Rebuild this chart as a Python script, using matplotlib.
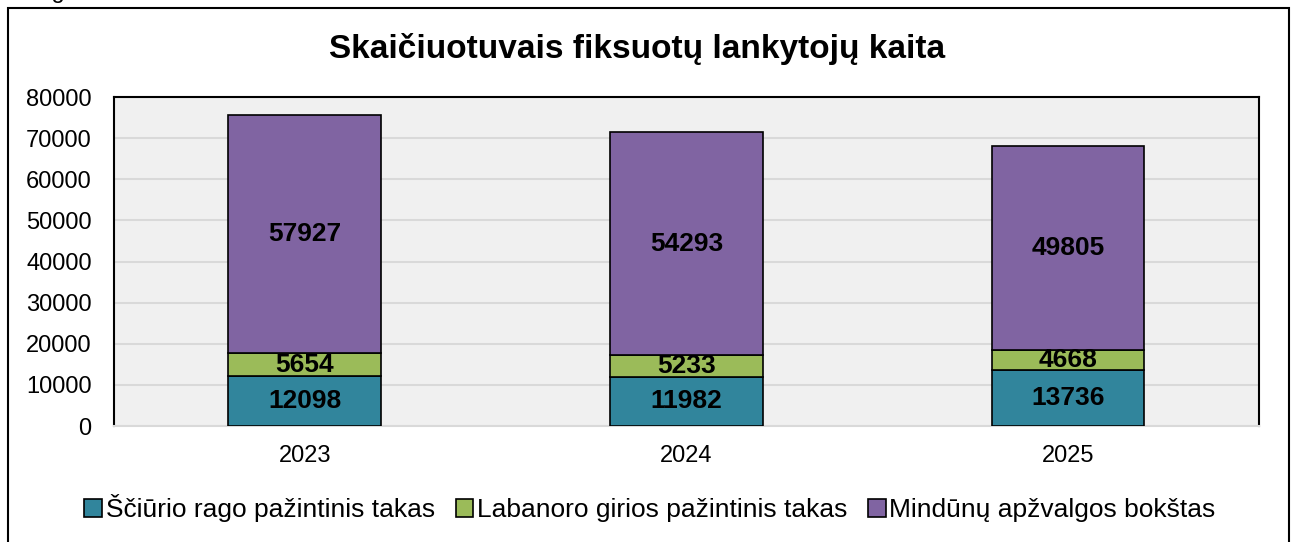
import matplotlib.pyplot as plt
import matplotlib.patches as mpatches
import numpy as np

plt.rcParams['font.family'] = ['Liberation Sans', 'DejaVu Sans']

# data
years = ['2023', '2024', '2025']
series_names = ['Ščiūrio rago pažintinis takas', 'Labanoro girios pažintinis takas',
                'Mindūnų apžvalgos bokštas']
sciurio = [12098, 11982, 13736]
labanoro = [5654, 5233, 4668]
mindunu = [57927, 54293, 49805]
colors = ['#31859C', '#9BBB59', '#8064A2']

fig = plt.figure(figsize=(12.95, 5.42), dpi=100)
ax = fig.add_axes([0.088, 0.214, 0.884, 0.607])
ax.set_facecolor('#F0F0F0')

x = np.arange(len(years))
width = 0.4
bottom = np.zeros(len(years))
for vals, name, c in zip([sciurio, labanoro, mindunu], series_names, colors):
    ax.bar(x, vals, width, bottom=bottom, color=c, edgecolor='black',
           linewidth=1.2, label=name, zorder=3)
    for xi, b, v in zip(x, bottom, vals):
        ax.text(xi, b + v / 2, str(v), ha='center', va='center', fontsize=19,
                fontweight='bold', zorder=4)
    bottom = bottom + np.array(vals)

ax.set_xlim(-0.5, 2.5)
ax.set_ylim(0, 80000)
ax.set_yticks(np.arange(0, 80001, 10000))
ax.set_xticks(x)
ax.set_xticklabels(years)
ax.tick_params(axis='both', length=0, labelsize=17)
ax.tick_params(axis='x', pad=14)
ax.tick_params(axis='y', pad=16)
ax.yaxis.grid(True, color='#D9D9D9', linewidth=1.5, zorder=0)
ax.set_axisbelow(True)
for s in ['left', 'top', 'right']:
    ax.spines[s].set_color('black')
    ax.spines[s].set_linewidth(1.5)
ax.spines['bottom'].set_color('#D9D9D9')
ax.spines['bottom'].set_linewidth(1.5)

fig.text(0.492, 0.91, 'Skaičiuotuvais fiksuotų lankytojų kaita', ha='center',
         va='center', fontsize=24, fontweight='bold')

# cut-off caption above the frame
fig.text(0.0, 1.015, 'ė diagrama', ha='left', va='center', fontsize=17)

fig.legend(loc='center', bbox_to_anchor=(0.502, 0.062), ncol=3, frameon=False,
           fontsize=19, handlelength=0.65, handleheight=0.65, handletextpad=0.15,
           columnspacing=0.8)

# outer chart frame
frame = mpatches.Rectangle((8 / 1295, -0.05), (1289 - 8) / 1295, 1.05 - 8 / 542,
                           transform=fig.transFigure, fill=False, edgecolor='black',
                           linewidth=1.5)
fig.patches.append(frame)

fig.savefig('out.png', dpi=100)
